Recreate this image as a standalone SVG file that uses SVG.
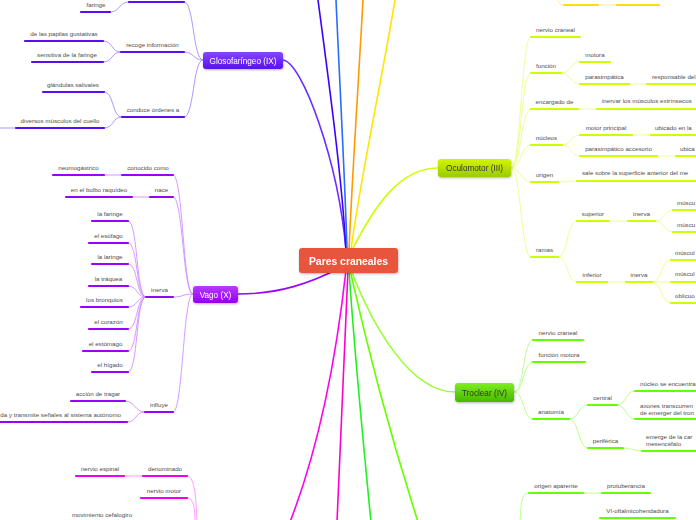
<svg xmlns="http://www.w3.org/2000/svg" width="696" height="520" viewBox="0 0 696 520">
<style>
text{font-family:"Liberation Sans",Arial,sans-serif}
.t{font-size:6.2px;fill:#4d4d4d;text-anchor:middle}
.ts{font-size:6.2px;fill:#4d4d4d;text-anchor:start}
.te{font-size:6.2px;fill:#4d4d4d;text-anchor:end}
.nl{font-size:8.2px;text-anchor:middle}
.u{stroke-width:2.2;stroke-linecap:round;fill:none}
.c{stroke-width:0.9;fill:none}
.m{stroke-width:1.6;fill:none;stroke-linecap:round}
.gl .u{stroke:#5a0cf2}.gl .c{stroke:#a58aff}
.va .u{stroke:#9a00ff}.va .c{stroke:#d08cff}
.mg .u{stroke:#ee00ee}.mg .c{stroke:#ff90ff}
.oc .u{stroke:#ccff00}.oc .c{stroke:#e9ff88}
.tr .u{stroke:#66ff00}.tr .c{stroke:#b2ff80}
.yl .u{stroke:#ffdd00}.yl .c{stroke:#ffec88}
</style>
<defs>
<linearGradient id="gGl" x1="0" y1="0" x2="0" y2="1"><stop offset="0" stop-color="#8546ff"/><stop offset="1" stop-color="#5a10ee"/></linearGradient>
<linearGradient id="gVa" x1="0" y1="0" x2="0" y2="1"><stop offset="0" stop-color="#b63cff"/><stop offset="1" stop-color="#9500ee"/></linearGradient>
<linearGradient id="gOc" x1="0" y1="0" x2="0" y2="1"><stop offset="0" stop-color="#d4f500"/><stop offset="1" stop-color="#9acb00"/></linearGradient>
<linearGradient id="gTr" x1="0" y1="0" x2="0" y2="1"><stop offset="0" stop-color="#80ee22"/><stop offset="1" stop-color="#44b800"/></linearGradient>
<filter id="sh" x="-20%" y="-30%" width="140%" height="180%"><feDropShadow dx="0.5" dy="1" stdDeviation="0.8" flood-color="#000" flood-opacity="0.3"/></filter>
</defs>
<rect width="696" height="520" fill="#fff"/>

<g id="connectors">
<path class="m" stroke="#6a2cff" d="M283,60 C302,62 338,160 346,250"/>
<path class="m" stroke="#3a00ff" d="M318,0 C330,90 342,180 346,250"/>
<path class="m" stroke="#2a6cff" d="M336,0 C340,90 345,180 347,250"/>
<path class="m" stroke="#ff9a00" d="M363,0 C358,90 352,180 349,250"/>
<path class="m" stroke="#ffe600" d="M395,0 C380,90 360,180 351,250"/>
<path class="m" stroke="#ccff00" d="M352,250 C375,205 400,168 438,168"/>
<path class="m" stroke="#a000ff" d="M238,294 C280,294 310,283 340,268"/>
<path class="m" stroke="#ff00ee" d="M346,270 C336,360 318,450 290,522"/>
<path class="m" stroke="#ff00cc" d="M348,270 C344,360 340,450 337,522"/>
<path class="m" stroke="#22ee22" d="M349,270 C355,360 364,450 371,522"/>
<path class="m" stroke="#66ff00" d="M350,270 C370,360 395,450 418,522"/>
<path class="m" stroke="#99ff33" d="M351,270 C372,325 410,392 455,392"/>
</g>

<g id="glosofaringeo-branch" class="gl">
<path class="c" d="M203,60 C193,60 194,2 184,2"/>
<path class="c" d="M203,60 C193,60 194,52 184,52"/>
<path class="c" d="M203,60 C193,60 194,117 184,117"/>
<path class="c" d="M129,2 C119,2 120,12 110,12"/>
<path class="c" d="M121,52 C111,52 113,41 103,41"/>
<path class="c" d="M121,52 C111,52 113,62 103,62"/>
<path class="c" d="M122,117 C112,117 114,92 104,92"/>
<path class="c" d="M122,117 C112,117 114,128 104,128"/>
<path class="c" d="M16,128 L-2,128"/>
<line class="u" x1="129" y1="2" x2="184" y2="2"/>
<g id="faringe"><line class="u" x1="81" y1="12" x2="110" y2="12"/><text class="t" x="96" y="7">faringe</text></g>
<g id="recoge"><line class="u" x1="121" y1="52" x2="184" y2="52"/><text class="t" x="152.5" y="47">recoge información</text></g>
<g id="papilas"><line class="u" x1="25" y1="41" x2="103" y2="41"/><text class="t" x="64" y="36">de las papilas gustativas</text></g>
<g id="sensitiva"><line class="u" x1="32" y1="62" x2="103" y2="62"/><text class="t" x="67" y="57">sensitiva de la faringe</text></g>
<g id="conduce"><line class="u" x1="122" y1="117" x2="184" y2="117"/><text class="t" x="153" y="112">conduce órdenes a</text></g>
<g id="glandulas"><line class="u" x1="43" y1="92" x2="104" y2="92"/><text class="t" x="73" y="87">glándulas salivales</text></g>
<g id="diversos"><line class="u" x1="16" y1="128" x2="104" y2="128"/><text class="t" x="60" y="123">diversos músculos del cuello</text></g>
</g>
<g id="glosofaringeo" filter="url(#sh)"><rect x="203" y="52" width="80" height="17" rx="3" fill="url(#gGl)"/><text class="nl" x="243" y="63.5" fill="#fff">Glosofaríngeo (IX)</text></g>

<g id="vago-branch" class="va">
<path class="c" d="M193,294 C183,294 183,175 173,175"/>
<path class="c" d="M193,294 C183,294 183,197 173,197"/>
<path class="c" d="M193,294 C183,294 183,297 173,297"/>
<path class="c" d="M193,294 C183,294 183,412 173,412"/>
<path class="c" d="M104,175 L122,175"/>
<path class="c" d="M132,197 L150,197"/>
<path class="c" d="M146,297 C136,297 138,221 128,221"/>
<path class="c" d="M146,297 C136,297 138,243 128,243"/>
<path class="c" d="M146,297 C136,297 138,264 128,264"/>
<path class="c" d="M146,297 C136,297 138,286 128,286"/>
<path class="c" d="M146,297 C136,297 138,307 128,307"/>
<path class="c" d="M146,297 C136,297 138,329 128,329"/>
<path class="c" d="M146,297 C136,297 138,351 128,351"/>
<path class="c" d="M146,297 C136,297 138,372 128,372"/>
<path class="c" d="M145,412 C135,412 135,401 125,401"/>
<path class="c" d="M145,412 C135,412 137,422 127,422"/>
<g id="conocido"><line class="u" x1="122" y1="175" x2="173" y2="175"/><text class="t" x="148" y="170">conocido como</text></g>
<g id="neumogastrico"><line class="u" x1="53" y1="175" x2="104" y2="175"/><text class="t" x="78.5" y="170">neumogástrico</text></g>
<g id="nace"><line class="u" x1="150" y1="197" x2="173" y2="197"/><text class="t" x="161.5" y="192">nace</text></g>
<g id="bulbo"><line class="u" x1="66" y1="197" x2="132" y2="197"/><text class="t" x="99" y="192">en el bulbo raquídeo</text></g>
<g id="inerva-x"><line class="u" x1="146" y1="297" x2="173" y2="297"/><text class="t" x="159.5" y="292">inerva</text></g>
<g id="la-faringe"><line class="u" x1="92" y1="221" x2="128" y2="221"/><text class="t" x="110" y="216">la faringe</text></g>
<g id="esofago"><line class="u" x1="89" y1="243" x2="128" y2="243"/><text class="t" x="108.5" y="238">el esófago</text></g>
<g id="laringe"><line class="u" x1="92" y1="264" x2="128" y2="264"/><text class="t" x="110" y="259">la laringe</text></g>
<g id="traquea"><line class="u" x1="89" y1="286" x2="128" y2="286"/><text class="t" x="108.5" y="281">la tráquea</text></g>
<g id="bronquios"><line class="u" x1="81" y1="307" x2="128" y2="307"/><text class="t" x="104.5" y="302">los bronquios</text></g>
<g id="corazon"><line class="u" x1="89" y1="329" x2="128" y2="329"/><text class="t" x="108.5" y="324">el corazón</text></g>
<g id="estomago"><line class="u" x1="83" y1="351" x2="128" y2="351"/><text class="t" x="105.5" y="346">el estómago</text></g>
<g id="higado"><line class="u" x1="92" y1="372" x2="128" y2="372"/><text class="t" x="110" y="367">el hígado</text></g>
<g id="influye"><line class="u" x1="145" y1="412" x2="173" y2="412"/><text class="t" x="159" y="407">influye</text></g>
<g id="tragar"><line class="u" x1="71" y1="401" x2="125" y2="401"/><text class="t" x="98" y="396">acción de tragar</text></g>
<g id="transmite"><line class="u" x1="-4" y1="422" x2="127" y2="422"/><text class="te" x="121" y="417">da y transmite señales al sistema autónomo</text></g>
</g>
<g id="vago" filter="url(#sh)"><rect x="193" y="286" width="45" height="17" rx="3" fill="url(#gVa)"/><text class="nl" x="215.5" y="297.5" fill="#fff">Vago (X)</text></g>

<g id="espinal-branch" class="mg">
<path class="c" d="M124,476 L143,476"/>
<path class="c" d="M187,476 C195,476 196,500 197,522"/>
<path class="c" d="M187,498 C194,498 195,510 195,522"/>
<g id="denominado"><line class="u" x1="143" y1="476" x2="187" y2="476"/><text class="t" x="165" y="471">denominado</text></g>
<g id="nervio-espinal"><line class="u" x1="76" y1="476" x2="124" y2="476"/><text class="t" x="100" y="471">nervio espinal</text></g>
<g id="nervio-motor"><line class="u" x1="141" y1="498" x2="187" y2="498"/><text class="t" x="164" y="493">nervio motor</text></g>
<g id="cefalogiro"><text class="t" x="102" y="517">movimiento cefalogiro</text></g>
</g>

<g id="top-yellow" class="yl">
<path class="c" d="M557,-4 C558,3 560,5 564,5"/>
<path class="c" d="M598,5 L617,5"/>
<line class="u" x1="564" y1="5" x2="598" y2="5"/>
<line class="u" x1="617" y1="5" x2="659" y2="5"/>
</g>

<g id="oculomotor-branch" class="oc">
<path class="c" d="M511,168 C521,168 521,37 531,37"/>
<path class="c" d="M511,168 C521,168 521,73 531,73"/>
<path class="c" d="M511,168 C521,168 521,109 531,109"/>
<path class="c" d="M511,168 C521,168 521,145 531,145"/>
<path class="c" d="M511,168 C521,168 521,182 531,182"/>
<path class="c" d="M511,168 C521,168 521,257 531,257"/>
<path class="c" d="M561,73 C571,73 570,62 580,62"/>
<path class="c" d="M561,73 C571,73 570,84 580,84"/>
<path class="c" d="M629,84 L647,84"/>
<path class="c" d="M578,109 C588,109 587,109 597,109"/>
<path class="c" d="M562,145 C572,145 570,135 580,135"/>
<path class="c" d="M562,145 C572,145 570,156 580,156"/>
<path class="c" d="M632,135 L651,135"/>
<path class="c" d="M657,156 L676,156"/>
<path class="c" d="M558,182 C568,182 567,181 577,181"/>
<path class="c" d="M558,257 C568,257 567,221 577,221"/>
<path class="c" d="M558,257 C568,257 567,282 577,282"/>
<path class="c" d="M609,221 L628,221"/>
<path class="c" d="M655,221 C664,221 664,210 673,210"/>
<path class="c" d="M655,221 C664,221 664,232 673,232"/>
<path class="c" d="M607,282 L626,282"/>
<path class="c" d="M652,282 C662,282 661,260 671,260"/>
<path class="c" d="M652,282 L671,282"/>
<path class="c" d="M652,282 C662,282 661,303 671,303"/>
<g id="oc-nervio"><line class="u" x1="531" y1="37" x2="580" y2="37"/><text class="t" x="555.5" y="32">nervio craneal</text></g>
<g id="oc-funcion"><line class="u" x1="531" y1="73" x2="561" y2="73"/><text class="t" x="546" y="68">función</text></g>
<g id="oc-motora"><line class="u" x1="580" y1="62" x2="610" y2="62"/><text class="t" x="595" y="57">motora</text></g>
<g id="oc-parasimpatica"><line class="u" x1="580" y1="84" x2="629" y2="84"/><text class="t" x="604.5" y="79">parasimpática</text></g>
<g id="oc-responsable"><line class="u" x1="647" y1="84" x2="700" y2="84"/><text class="ts" x="652" y="79">responsable del</text></g>
<g id="oc-encargado"><line class="u" x1="531" y1="109" x2="578" y2="109"/><text class="t" x="554.5" y="104">encargado de</text></g>
<g id="oc-inervar"><line class="u" x1="597" y1="109" x2="700" y2="109"/><text class="ts" x="602" y="103">inervar los músculos extrínsecos</text></g>
<g id="oc-nucleos"><line class="u" x1="531" y1="145" x2="562" y2="145"/><text class="t" x="546.5" y="140">núcleos</text></g>
<g id="oc-motorprincipal"><line class="u" x1="580" y1="135" x2="632" y2="135"/><text class="t" x="606" y="130">motor principal</text></g>
<g id="oc-ubicado"><line class="u" x1="651" y1="135" x2="700" y2="135"/><text class="ts" x="655" y="130">ubicado en la</text></g>
<g id="oc-paraacc"><line class="u" x1="580" y1="156" x2="657" y2="156"/><text class="t" x="618.5" y="151">parasimpático accesorio</text></g>
<g id="oc-ubica"><line class="u" x1="676" y1="156" x2="700" y2="156"/><text class="ts" x="680" y="151">ubica</text></g>
<g id="oc-origen"><line class="u" x1="531" y1="182" x2="558" y2="182"/><text class="t" x="544.5" y="177">origen</text></g>
<g id="oc-sale"><line class="u" x1="577" y1="181" x2="700" y2="181"/><text class="ts" x="582" y="175">sale sobre la superficie anterior del me</text></g>
<g id="oc-ramas"><line class="u" x1="531" y1="257" x2="558" y2="257"/><text class="t" x="544.5" y="252">ramas</text></g>
<g id="oc-superior"><line class="u" x1="577" y1="221" x2="609" y2="221"/><text class="t" x="593" y="216">superior</text></g>
<g id="oc-inerva1"><line class="u" x1="628" y1="221" x2="655" y2="221"/><text class="t" x="641.5" y="216">inerva</text></g>
<g id="oc-m1"><line class="u" x1="673" y1="210" x2="700" y2="210"/><text class="ts" x="677" y="205">múscu</text></g>
<g id="oc-m2"><line class="u" x1="673" y1="232" x2="700" y2="232"/><text class="ts" x="677" y="227">múscu</text></g>
<g id="oc-inferior"><line class="u" x1="577" y1="282" x2="607" y2="282"/><text class="t" x="592" y="277">inferior</text></g>
<g id="oc-inerva2"><line class="u" x1="626" y1="282" x2="652" y2="282"/><text class="t" x="639" y="277">inerva</text></g>
<g id="oc-m3"><line class="u" x1="671" y1="260" x2="700" y2="260"/><text class="ts" x="675" y="255">múscul</text></g>
<g id="oc-m4"><line class="u" x1="671" y1="282" x2="700" y2="282"/><text class="ts" x="675" y="276">múscul</text></g>
<g id="oc-oblicuo"><line class="u" x1="671" y1="303" x2="700" y2="303"/><text class="ts" x="675" y="298">oblicuo</text></g>
</g>
<g id="oculomotor" filter="url(#sh)"><rect x="438" y="159" width="73" height="18" rx="3" fill="url(#gOc)"/><text class="nl" x="474.5" y="171" fill="#333">Oculomotor (III)</text></g>

<g id="troclear-branch" class="tr">
<path class="c" d="M514,392 C524,392 523,340 533,340"/>
<path class="c" d="M514,392 C524,392 523,362 533,362"/>
<path class="c" d="M514,392 C524,392 523,419 533,419"/>
<path class="c" d="M569,419 C579,419 578,405 588,405"/>
<path class="c" d="M569,419 C579,419 578,448 588,448"/>
<path class="c" d="M617,405 C626,405 626,391 635,391"/>
<path class="c" d="M617,405 C626,405 626,419 635,419"/>
<path class="c" d="M623,448 C632,448 633,451 642,451"/>
<g id="tr-nervio"><line class="u" x1="533" y1="340" x2="583" y2="340"/><text class="t" x="558" y="335">nervio craneal</text></g>
<g id="tr-funcion"><line class="u" x1="533" y1="362" x2="585" y2="362"/><text class="t" x="559" y="357">función motora</text></g>
<g id="tr-anatomia"><line class="u" x1="533" y1="419" x2="569" y2="419"/><text class="t" x="551" y="414">anatomía</text></g>
<g id="tr-central"><line class="u" x1="588" y1="405" x2="617" y2="405"/><text class="t" x="602.5" y="400">central</text></g>
<g id="tr-nucleo"><line class="u" x1="635" y1="391" x2="700" y2="391"/><text class="ts" x="640" y="386">núcleo se encuentra</text></g>
<g id="tr-axones"><line class="u" x1="635" y1="419" x2="700" y2="419"/><text class="ts" x="640" y="408">axones transcurren</text><text class="ts" x="640" y="414.5">de emerger del tron</text></g>
<g id="tr-periferica"><line class="u" x1="588" y1="448" x2="623" y2="448"/><text class="t" x="605.5" y="443">periférica</text></g>
<g id="tr-emerge"><line class="u" x1="642" y1="451" x2="700" y2="451"/><text class="ts" x="646" y="439">emerge de la car</text><text class="ts" x="646" y="445.5">mesencéfalo</text></g>
</g>
<g id="troclear" filter="url(#sh)"><rect x="455" y="383" width="59" height="19" rx="3" fill="url(#gTr)"/><text class="nl" x="484.5" y="395.5" fill="#333">Troclear (IV)</text></g>

<g id="bottom-green" class="tr">
<path class="c" d="M583,493 L602,493"/>
<path class="c" d="M529,493 C521,493 521,505 520,522"/>
<g id="origen-aparente"><line class="u" x1="529" y1="493" x2="583" y2="493"/><text class="t" x="556" y="488">origen aparente</text></g>
<g id="protuberancia"><line class="u" x1="602" y1="493" x2="650" y2="493"/><text class="t" x="626" y="488">protuberancia</text></g>
<g id="vi-oftalmico"><line class="u" x1="600" y1="518" x2="675" y2="518"/><text class="t" x="637.5" y="513">VI-oftalmicohendadura</text></g>
</g>

<g id="pares-craneales" filter="url(#sh)"><rect x="299" y="248" width="99" height="25" rx="3" fill="#e8553e"/><text x="348.5" y="264.5" font-size="10.4" font-weight="bold" fill="#fff" text-anchor="middle">Pares craneales</text></g>
</svg>
